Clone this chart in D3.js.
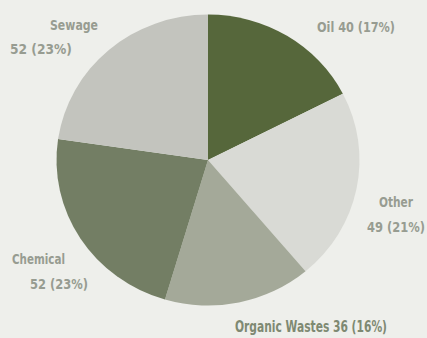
<!DOCTYPE html>
<html>
<head>
<meta charset="utf-8">
<script src="https://cdn.jsdelivr.net/npm/d3@7/dist/d3.min.js"></script>
<style>
  html, body { margin: 0; padding: 0; background: #eeefeb; }
  svg { display: block; }
  .lbl { font-family: "DejaVu Sans Condensed", "DejaVu Sans", sans-serif; font-stretch: condensed; }
</style>
</head>
<body>
<svg id="chart" width="427" height="338"></svg>
<script>
// Sources of marine pollution
const categories = ["Oil", "Other", "Organic Wastes", "Chemical", "Sewage"];
const values = [40, 49, 36, 52, 52];
const percentLabels = ["17%", "21%", "16%", "23%", "23%"];

const colors = ["#56673b", "#d9dad5", "#a4a999", "#737e64", "#c3c4be"];

// Label placement: each line is [text, x, baseline y, width]
const labelLayout = {
  "Oil":            { lines: [["Oil 40 (17%)", 317, 32, 78]] },
  "Other":          { lines: [["Other", 379, 207, 34], ["49 (21%)", 367, 232, 58]] },
  "Organic Wastes": { lines: [["Organic Wastes 36 (16%)", 235, 332, 152]], strong: true },
  "Chemical":       { lines: [["Chemical", 12, 264, 53], ["52 (23%)", 30, 289, 58]] },
  "Sewage":         { lines: [["Sewage", 50, 30, 48], ["52 (23%)", 10, 54, 62]] }
};

const width = 427, height = 338;
const cx = 208, cy = 160, rx = 151.5, ry = 145.5;
const r = 148;

const svg = d3.select("#chart");
svg.append("rect").attr("width", width).attr("height", height).attr("fill", "#eeefeb");

const data = categories.map((c, i) => ({ category: c, value: values[i], pct: percentLabels[i], color: colors[i] }));

const pie = d3.pie().sort(null).value(d => d.value).startAngle(0).endAngle(2 * Math.PI);
const arc = d3.arc().innerRadius(0).outerRadius(r);

const g = svg.append("g")
  .attr("transform", `translate(${cx},${cy}) scale(${rx / r},${ry / r})`);

g.selectAll("path.slice")
  .data(pie(data))
  .join("path")
  .attr("class", "slice")
  .attr("d", arc)
  .attr("fill", d => d.data.color);

// Labels
const labels = svg.append("g");
data.forEach(d => {
  const L = labelLayout[d.category];
  L.lines.forEach(([txt, x, y, w]) => {
    labels.append("text")
      .attr("class", "lbl")
      .attr("x", x)
      .attr("y", y)
      .attr("font-size", L.strong ? 15 : 13.5)
      .attr("font-weight", "bold")
      .attr("fill", L.strong ? "#7e8972" : "#979c91")
      .attr("textLength", w)
      .attr("lengthAdjust", "spacingAndGlyphs")
      .text(txt);
  });
});
</script>
</body>
</html>
